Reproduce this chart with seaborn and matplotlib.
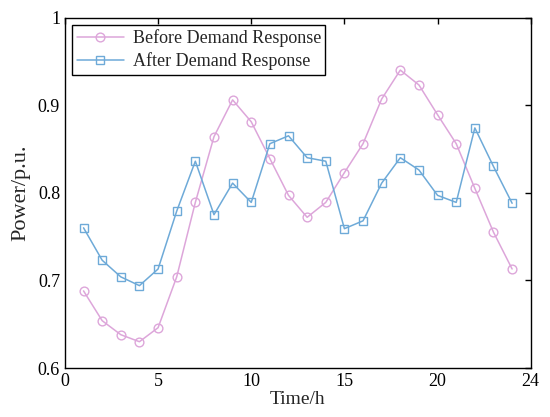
import matplotlib
matplotlib.use("Agg")
import matplotlib.pyplot as plt
import seaborn as sns
import pandas as pd

# ========== Data ========== #
hours = list(range(1, 25))
before_dr = [0.688, 0.654, 0.638, 0.630, 0.646, 0.704, 0.789, 0.864, 0.906, 0.881,
             0.839, 0.797, 0.772, 0.789, 0.823, 0.856, 0.907, 0.940, 0.923, 0.889,
             0.856, 0.805, 0.755, 0.713]
after_dr = [0.760, 0.723, 0.704, 0.694, 0.713, 0.779, 0.836, 0.775, 0.811, 0.789,
            0.856, 0.865, 0.840, 0.836, 0.759, 0.768, 0.811, 0.840, 0.826, 0.797,
            0.789, 0.874, 0.830, 0.788]
x_ticks = [0, 5, 10, 15, 20, 25]
x_tick_labels = ["0", "5", "10", "15", "20", "24"]
y_ticks = [0.6, 0.7, 0.8, 0.9, 1.0]
y_tick_labels = ["0.6", "0.7", "0.8", "0.9", "1"]
series_names = ["Before Demand Response", "After Demand Response"]

df = pd.DataFrame({
    "hour": hours * 2,
    "power": before_dr + after_dr,
    "series": [series_names[0]] * 24 + [series_names[1]] * 24,
})

# ========== Style ========== #
sns.set_style("white")
plt.rcParams["font.family"] = ["Liberation Serif", "DejaVu Serif"]

fig = plt.figure(figsize=(5.5, 4.17), dpi=100)
ax = fig.add_axes([0.118, 0.1175, 0.847, 0.8405])

palette = {series_names[0]: "#DDA6DA", series_names[1]: "#6EAAD8"}
markers = {series_names[0]: "o", series_names[1]: "s"}
msizes = {series_names[0]: 6.3, series_names[1]: 5.5}

sns.lineplot(data=df, x="hour", y="power", hue="series", style="series",
             palette=palette, markers=markers, dashes=False, ax=ax,
             linewidth=1.1, legend=False)
# hollow markers in the series colour
for line, name in zip(ax.lines, series_names):
    line.set_markerfacecolor("none")
    line.set_markeredgecolor(palette[name])
    line.set_markeredgewidth(1.0)
    line.set_markersize(msizes[name])

ax.set_xlim(0, 25)
ax.set_ylim(0.6, 1.0)
ax.set_xticks(x_ticks)
ax.set_xticklabels(x_tick_labels)
ax.set_yticks(y_ticks)
ax.set_yticklabels(y_tick_labels)
ax.tick_params(direction="in", length=4, width=1, labelsize=13,
               top=True, right=True, colors="black")
for s in ax.spines.values():
    s.set_color("black")
    s.set_linewidth(1.0)

ax.set_xlabel("Time/h", fontsize=14, labelpad=1)
ax.set_ylabel("Power/p.u.", fontsize=16, labelpad=5)

leg = ax.legend(ax.lines[:2], series_names,
                loc="upper left", fontsize=13, frameon=True, fancybox=False,
                edgecolor="black", framealpha=1, borderpad=0.25,
                handlelength=2.6, handletextpad=0.5, labelspacing=0.3,
                borderaxespad=0.4)
leg.get_frame().set_linewidth(1.0)

fig.savefig("out.png", dpi=100)
